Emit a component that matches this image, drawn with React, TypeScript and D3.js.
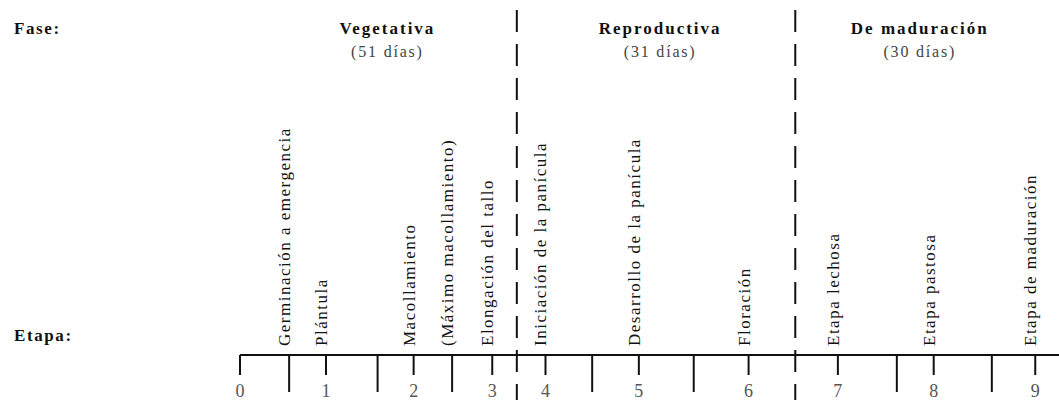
import React from 'react';
import * as d3 from 'd3';

// fases del cultivo
const fases = ['Vegetativa', 'Reproductiva', 'De maduración'];
const faseDias = [51, 31, 30];
const faseCentro = [18.0, 51.3, 83.0];   // posición del título sobre el eje (0-100)
const faseLimites = [33.8, 67.8];        // líneas punteadas entre fases

// etapas numeradas bajo el eje
const etapaNumeros = [0, 1, 2, 3, 4, 5, 6, 7, 8, 9];
const etapaPos = [0, 10.5, 21.2, 30.8, 37.3, 48.7, 62.1, 73.0, 84.7, 97.1];

// marcas largas sin número
const marcasIntermedias = [6.0, 16.8, 25.9, 43.0, 55.4, 80.2, 91.8];

// rótulos verticales
const eventos = [
  'Germinación a emergencia',
  'Plántula',
  'Macollamiento',
  '(Máximo macollamiento)',
  'Elongación del tallo',
  'Iniciación de la panícula',
  'Desarrollo de la panícula',
  'Floración',
  'Etapa lechosa',
  'Etapa pastosa',
  'Etapa de maduración',
];
const eventoPos = [6.0, 10.5, 21.2, 25.9, 30.8, 37.3, 48.7, 62.1, 73.0, 84.7, 97.1];

const width = 1059;
const height = 400;
const font = '"Liberation Serif", "Times New Roman", serif';

const App = () => {
  const x = d3.scaleLinear().domain([0, 100]).range([240, width]);
  const ejeY = 355;

  return (
    <svg
      width={width}
      height={height}
      style={{position: 'absolute', left: 0, top: 0, background: '#fff'}}
      fontFamily={font}
    >
      <text x={14} y={34} fontSize={17} fontWeight="bold" letterSpacing={1.6} fill="#111">Fase:</text>
      <text x={14} y={341} fontSize={17} fontWeight="bold" letterSpacing={1.6} fill="#111">Etapa:</text>

      {fases.map((f, i) => (
        <g key={f} transform={`translate(${x(faseCentro[i])},0)`}>
          <text y={34} textAnchor="middle" fontSize={17} fontWeight="bold" letterSpacing={2} fill="#111">{f}</text>
          <text y={57} textAnchor="middle" fontSize={16} letterSpacing={1.8} fill="#444">({faseDias[i]} días)</text>
        </g>
      ))}

      {faseLimites.map((d, i) => (
        <line key={i} x1={x(d)} x2={x(d)} y1={10} y2={height}
          stroke="#111" strokeWidth={2} strokeDasharray="22,12" />
      ))}

      <line x1={x(0)} x2={x(100)} y1={ejeY} y2={ejeY} stroke="#111" strokeWidth={2} />

      {etapaPos.map((d, i) => (
        <g key={'e' + i} transform={`translate(${x(d)},${ejeY})`}>
          <line y1={0} y2={20} stroke="#111" strokeWidth={2} />
          <text y={42} textAnchor="middle" fontSize={18} fill="#555">{etapaNumeros[i]}</text>
        </g>
      ))}

      {marcasIntermedias.map((d, i) => (
        <line key={'m' + i} x1={x(d)} x2={x(d)} y1={ejeY} y2={ejeY + 37} stroke="#111" strokeWidth={2} />
      ))}

      {eventos.map((e, i) => (
        <text key={e} transform={`translate(${x(eventoPos[i]) + 1},346) rotate(-90)`}
          fontSize={17} letterSpacing={1.5} fill="#111">{e}</text>
      ))}
    </svg>
  );
};

export default App;
